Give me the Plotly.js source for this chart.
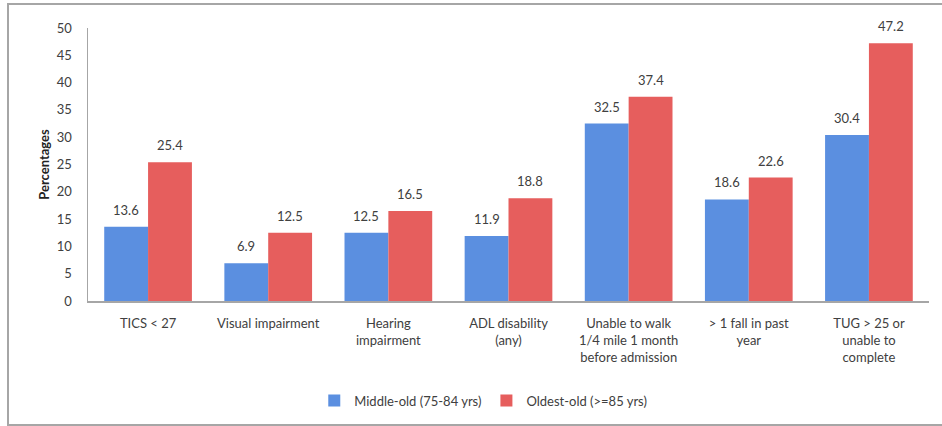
<!DOCTYPE html>
<html>
<head>
<meta charset="utf-8">
<script src="https://cdn.plot.ly/plotly-3.0.1.min.js"></script>
<style>
html,body{margin:0;padding:0;background:#fff;}
#chart{width:942px;height:426px;position:absolute;left:0;top:0;}
#frame{position:absolute;left:7px;top:3px;width:960px;height:419px;border:2px solid #a6a6a6;pointer-events:none;}
</style>
</head>
<body>
<div id="chart"></div>
<div id="frame"></div>
<script>
const categories = [
  "TICS < 27",
  "Visual impairment",
  "Hearing<br>impairment",
  "ADL disability<br>(any)",
  "Unable to walk<br>1/4 mile 1 month<br>before admission",
  "> 1 fall in past<br>year",
  "TUG > 25 or<br>unable to<br>complete"
];
const middleOld = [13.6, 6.9, 12.5, 11.9, 32.5, 18.6, 30.4];
const oldestOld = [25.4, 12.5, 16.5, 18.8, 37.4, 22.6, 47.2];
const seriesNames = ["Middle-old (75-84 yrs)", "Oldest-old (>=85 yrs)"];
const yTicks = [0, 5, 10, 15, 20, 25, 30, 35, 40, 45, 50];

const textFont = {family: "Lato, 'Open Sans', sans-serif", size: 13, color: "#404040"};

const traces = [
  {type: "bar", name: seriesNames[0], x: categories, y: middleOld,
   marker: {color: "#5b8fe0"}, hoverinfo: "x+y"},
  {type: "bar", name: seriesNames[1], x: categories, y: oldestOld,
   marker: {color: "#e65e5d"}, hoverinfo: "x+y"}
];

const plotW = 942 - 88 - 13;
const bargap = 0.27;
const barHalfShift = (plotW / categories.length) * (1 - bargap) / 4;

const annotations = [];
[middleOld, oldestOld].forEach(function (vals, si) {
  vals.forEach(function (v, i) {
    annotations.push({
      x: categories[i], y: v, xref: "x", yref: "y",
      text: v.toFixed(1), showarrow: false,
      xanchor: "center", yanchor: "bottom",
      xshift: si === 0 ? -barHalfShift : barHalfShift, yshift: 7,
      font: textFont
    });
  });
});

const layout = {
  width: 942, height: 426,
  margin: {l: 88, r: 13, t: 28, b: 124},
  paper_bgcolor: "#ffffff", plot_bgcolor: "#ffffff",
  font: textFont,
  barmode: "group", bargap: bargap, bargroupgap: 0,
  showlegend: true,
  legend: {orientation: "h", x: 0.47, xanchor: "center", y: -0.36, yanchor: "middle",
           font: textFont, itemwidth: 30, traceorder: "normal"},
  annotations: annotations,
  xaxis: {
    type: "category", showline: true, linecolor: "#a6a6a6", linewidth: 1.5,
    showgrid: false, ticks: "", tickfont: textFont, ticklabelstandoff: 10,
    automargin: false
  },
  yaxis: {
    range: [0, 50], tickvals: yTicks, showline: true, linecolor: "#a6a6a6", linewidth: 1.5,
    showgrid: false, zeroline: false, ticks: "", tickfont: textFont, ticklabelstandoff: 12,
    title: {text: "<b>Percentages</b>", font: {family: "Lato, 'Open Sans', sans-serif", size: 13, color: "#222"}, standoff: 4},
    automargin: false
  }
};

Plotly.newPlot("chart", traces, layout, {displayModeBar: false, staticPlot: true});
</script>
</body>
</html>
